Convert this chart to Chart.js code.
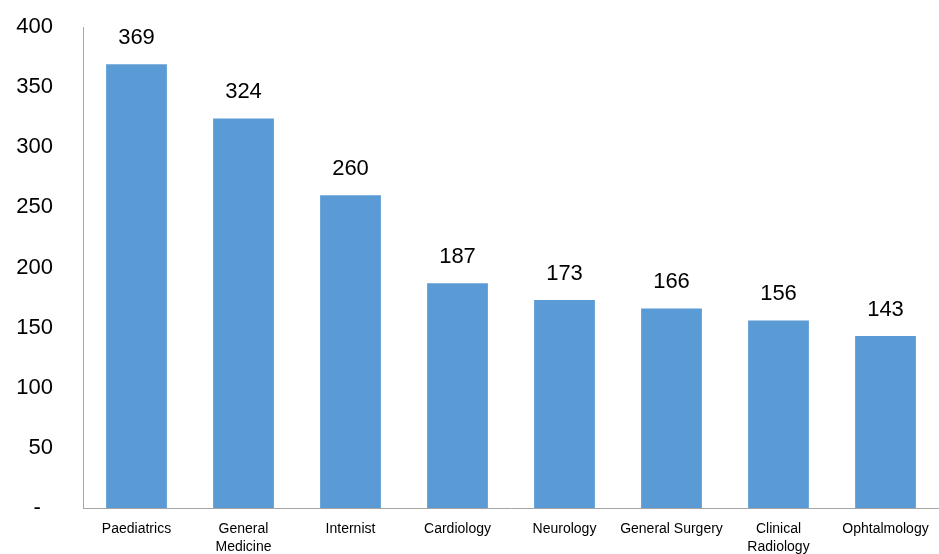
<!DOCTYPE html>
<html>
<head>
<meta charset="utf-8">
<script src="https://cdn.jsdelivr.net/npm/chart.js@4/dist/chart.umd.min.js"></script>
<style>
  html, body { margin: 0; padding: 0; background: #fff; }
  #wrap { width: 939px; height: 554px; }
</style>
</head>
<body>
<div id="wrap"><canvas id="chart"></canvas></div>
<script>
// data
const categories = [
    "Paediatrics", ["General", "Medicine"], "Internist", "Cardiology",
    "Neurology", "General Surgery", ["Clinical", "Radiology"], "Ophtalmology"
];
const counts = [369, 324, 260, 187, 173, 166, 156, 143];
const yTicks = [0, 50, 100, 150, 200, 250, 300, 350, 400];

// simple value labels on top of each bar
const barValues = {
    id: 'barValues',
    afterDatasetsDraw(chart) {
        const ctx = chart.ctx;
        const meta = chart.getDatasetMeta(0);
        ctx.save();
        ctx.font = '22px "Liberation Sans", Arial, sans-serif';
        ctx.fillStyle = '#000';
        ctx.textAlign = 'center';
        ctx.textBaseline = 'bottom';
        meta.data.forEach((bar, i) => {
            ctx.fillText(String(counts[i]), bar.x, bar.y - 15);
        });
        ctx.restore();
    }
};

new Chart(document.getElementById('chart'), {
    type: 'bar',
    data: {
        labels: categories,
        datasets: [{
            data: counts,
            backgroundColor: '#5B9BD5',
            borderWidth: 0,
            barPercentage: 0.568,
            categoryPercentage: 1.0
        }]
    },
    options: {
        responsive: true,
        maintainAspectRatio: false,
        animation: false,
        // plot area runs a few px past the right edge, as in the original
        layout: { padding: { top: 27, right: -6, left: 0, bottom: 0 } },
        plugins: {
            legend: { display: false },
            tooltip: { enabled: false }
        },
        scales: {
            x: {
                grid: { display: false, drawTicks: false },
                border: { color: '#A6A6A6', width: 1 },
                ticks: {
                    color: '#000',
                    font: { family: '"Liberation Sans", Arial, sans-serif', size: 14, lineHeight: 1.3 },
                    padding: 12,
                    maxRotation: 0,
                    autoSkip: false
                },
                afterFit(scale) {
                    scale.height = 46;
                    scale.paddingLeft = 0;
                    scale.paddingRight = 0;
                }
            },
            y: {
                min: 0,
                max: 400,
                afterBuildTicks(scale) {
                    scale.ticks = yTicks.map(v => ({ value: v }));
                },
                grid: { display: false, drawTicks: false },
                border: { color: '#A6A6A6', width: 1 },
                ticks: {
                    color: '#000',
                    font: { family: '"Liberation Sans", Arial, sans-serif', size: 22 },
                    padding: 30,
                    callback: v => v === 0 ? '-  ' : String(v)
                },
                afterFit(scale) {
                    scale.width = 83;
                    // tick padding otherwise pushes the plot top down
                    scale.paddingTop = 0;
                    scale.paddingBottom = 0;
                }
            }
        }
    },
    plugins: [barValues]
});
</script>
</body>
</html>
